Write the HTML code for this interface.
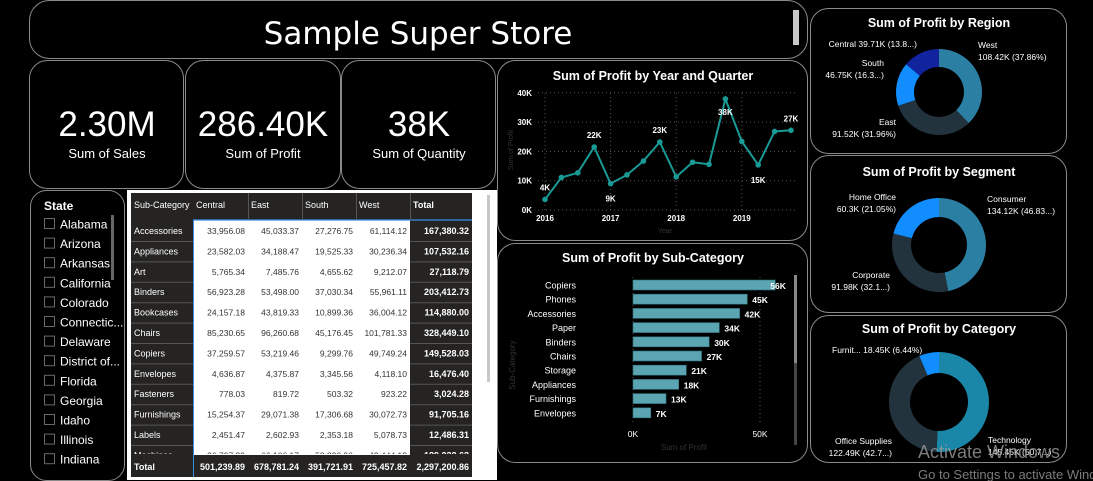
<!DOCTYPE html>
<html><head><meta charset="utf-8"><style>
html,body{margin:0;padding:0;background:#000;width:1093px;height:481px;overflow:hidden}
svg{display:block;font-family:"Liberation Sans",sans-serif}
</style></head><body>
<svg id="s" width="1093" height="481" viewBox="0 0 1093 481" xmlns="http://www.w3.org/2000/svg">
<g fill="#000" stroke="#8a8a8a" stroke-width="1">
<rect x="29.5" y="0.5" width="778" height="58" rx="20"/>
<rect x="29.5" y="60.5" width="154" height="128" rx="18"/>
<rect x="185.5" y="60.5" width="155" height="128" rx="18"/>
<rect x="341.5" y="60.5" width="154" height="128" rx="18"/>
<rect x="497.5" y="60.5" width="310" height="180" rx="18"/>
<rect x="497.5" y="243.5" width="310" height="219" rx="18"/>
<rect x="30.5" y="190.5" width="94" height="290" rx="16"/>
<rect x="810.5" y="8.5" width="256" height="145" rx="18"/>
<rect x="810.5" y="155.5" width="256" height="157" rx="18"/>
<rect x="810.5" y="315.5" width="256" height="147" rx="18"/>
</g>
<rect x="793" y="10" width="6" height="35" fill="#c8c8c8"/>
<text x="418" y="44" text-anchor="middle" font-size="31" fill="#fff" font-family="'Comic Sans MS','DejaVu Sans',sans-serif">Sample Super Store</text>
<g fill="#fff" text-anchor="middle">
<text x="107" y="136" font-size="35">2.30M</text>
<text x="107" y="158" font-size="13">Sum of Sales</text>
<text x="263" y="136" font-size="35">286.40K</text>
<text x="263" y="158" font-size="13">Sum of Profit</text>
<text x="419" y="136" font-size="35">38K</text>
<text x="419" y="158" font-size="13">Sum of Quantity</text>
</g>
<g id="slicer"></g>
<g id="table"></g>
<g id="line"></g>
<g id="bar"></g>
<g id="donuts"></g>
<text x="918" y="458" font-size="18" fill="#9a9a9a" opacity="0.8">Activate Windows</text>
<text x="918" y="479" font-size="13" fill="#9a9a9a" opacity="0.8">Go to Settings to activate Windows.</text>
</svg>
<script>
const NS="http://www.w3.org/2000/svg";
// ---- data ----
const states=["Alabama","Arizona","Arkansas","California","Colorado","Connectic...","Delaware","District of...","Florida","Georgia","Idaho","Illinois","Indiana"];
const tableCols=["Sub-Category","Central","East","South","West","Total"];
const tableRows=["Accessories","Appliances","Art","Binders","Bookcases","Chairs","Copiers","Envelopes","Fasteners","Furnishings","Labels","Machines"];
const tableCentral=["33,956.08","23,582.03","5,765.34","56,923.28","24,157.18","85,230.65","37,259.57","4,636.87","778.03","15,254.37","2,451.47","26,797.39"];
const tableEast=["45,033.37","34,188.47","7,485.76","53,498.00","43,819.33","96,260.68","53,219.46","4,375.87","819.72","29,071.38","2,602.93","66,106.17"];
const tableSouth=["27,276.75","19,525.33","4,655.62","37,030.34","10,899.36","45,176.45","9,299.76","3,345.56","503.32","17,306.68","2,353.18","53,890.96"];
const tableWest=["61,114.12","30,236.34","9,212.07","55,961.11","36,004.12","101,781.33","49,749.24","4,118.10","923.22","30,072.73","5,078.73","42,444.12"];
const tableTotal=["167,380.32","107,532.16","27,118.79","203,412.73","114,880.00","328,449.10","149,528.03","16,476.40","3,024.28","91,705.16","12,486.31","189,238.63"];
const totalRow=["Total","501,239.89","678,781.24","391,721.91","725,457.82","2,297,200.86"];
const quarterProfit=[3.6,11.1,12.7,21.5,9.0,12.0,16.7,23.2,11.3,16.3,15.6,37.9,23.4,15.4,26.8,27.2];
const lineLabels={0:"4K",3:"22K",4:"9K",7:"23K",11:"38K",13:"15K",15:"27K"};
const yearTicks=["2016","2017","2018","2019"];
const yTicks=[0,10,20,30,40];
const barCats=["Copiers","Phones","Accessories","Paper","Binders","Chairs","Storage","Appliances","Furnishings","Envelopes"];
const barVals=[56,45,42,34,30,27,21,18,13,7];
const barTicks=[0,50];
const regionNames=["West","East","South","Central"];
const regionVals=[37.86,31.96,16.33,13.85];
const segmentNames=["Consumer","Corporate","Home Office"];
const segmentVals=[46.83,32.12,21.05];
const categoryNames=["Technology","Office Supplies","Furniture"];
const categoryVals=[50.79,42.77,6.44];

function el(tag,attrs,parent,txt){const e=document.createElementNS(NS,tag);for(const k in attrs)e.setAttribute(k,attrs[k]);if(txt!==undefined)e.textContent=txt;parent.appendChild(e);return e;}

// ---- slicer ----
const sl=document.getElementById('slicer');
let t=el('text',{x:44,y:210,'font-size':12,'font-weight':'bold',fill:'#fff'},sl,'State');

states.forEach((s,i)=>{const y=224+i*19.6;
 const g=el('g',{},sl);
 el('rect',{x:44.5,y:y-5.5,width:10,height:10,fill:'none',stroke:'#6a6a6a'},g);
 el('text',{x:60,y:y+4.5,'font-size':12,fill:'#fff'},g,s);});
let sb=el('rect',{x:111,y:215,width:3,height:65,fill:'#666'},sl);


// ---- table ----
const tb=document.getElementById('table');
el('rect',{x:127,y:190,width:370,height:290,fill:'#fff'},tb);
const colX=[131,193,248,302,356,410,472];
el('rect',{x:131,y:193,width:341,height:27,fill:'#252423'},tb);
el('rect',{x:131,y:220,width:62,height:235,fill:'#252423'},tb);
el('rect',{x:410,y:220,width:62,height:235,fill:'#252423'},tb);
el('rect',{x:131,y:455,width:341,height:22,fill:'#252423'},tb);
el('line',{x1:193,y1:220,x2:472,y2:220,stroke:'#3a8ee6','stroke-width':1.2},tb);
el('line',{x1:193.5,y1:220,x2:193.5,y2:477,stroke:'#3a8ee6'},tb);
for(let i=1;i<5;i++)el('line',{x1:colX[i+1]+0.5,y1:193,x2:colX[i+1]+0.5,y2:220,stroke:'#555'},tb);
tableCols.forEach((c,i)=>{const tx=el('text',{x:colX[i]+3,y:208,'font-size':9,fill:'#fff','font-weight':i==5?'bold':'normal'},tb,c);
 });
const cols=[tableCentral,tableEast,tableSouth,tableWest];
tableRows.forEach((r,i)=>{const y=231+i*20.4;
 if(i<11){el('line',{x1:131,y1:y+10.5,x2:193,y2:y+10.5,stroke:'#555'},tb);el('line',{x1:410,y1:y+10.5,x2:472,y2:y+10.5,stroke:'#555'},tb);}
 const g=el('g',{},tb);
 if(i==11)g.setAttribute('clip-path','url(#rowclip)');
 el('text',{x:134,y:y+3,'font-size':9,fill:'#fff'},g,r);
 cols.forEach((c,j)=>el('text',{x:colX[j+2]-3,y:y+3,'font-size':8.5,fill:'#333','text-anchor':'end'},g,c[i]));
 el('text',{x:469,y:y+3,'font-size':9,fill:'#fff','font-weight':'bold','text-anchor':'end'},g,tableTotal[i]);});
const defs=el('defs',{},document.getElementById('s'));const cp=el('clipPath',{id:'rowclip'},defs);el('rect',{x:127,y:440,width:350,height:14},cp);
totalRow.forEach((v,i)=>{const tx=el('text',{x:i==0?134:colX[i+1]-3,y:470,'font-size':9,'font-weight':'bold',fill:'#fff','text-anchor':i==0?'start':'end'},tb,v);
 });
let ts=el('rect',{x:487,y:195,width:3,height:187,fill:'#c8c8c8'},tb);


// ---- line chart ----
const ln=document.getElementById('line');
el('text',{x:653,y:80,'font-size':12.5,'font-weight':'bold',fill:'#fff','text-anchor':'middle'},ln,'Sum of Profit by Year and Quarter');
const lx=i=>545+i*16.4, ly=v=>210-v*2.93;
yTicks.forEach(v=>{el('line',{x1:538,y1:ly(v),x2:797,y2:ly(v),stroke:'#555','stroke-dasharray':'1,3'},ln);
 el('text',{x:532,y:ly(v)+3,'font-size':8,'font-weight':'bold',fill:'#fff','text-anchor':'end'},ln,v+'K');});
yearTicks.forEach((y,i)=>{const x=lx(i*4);el('line',{x1:x,y1:93,x2:x,y2:210,stroke:'#555','stroke-dasharray':'1,3'},ln);
 el('text',{x:x,y:221,'font-size':8,'font-weight':'bold',fill:'#fff','text-anchor':'middle'},ln,y);});
el('text',{x:665,y:233,'font-size':7,fill:'#333','text-anchor':'middle'},ln,'Year');
el('text',{x:513,y:150,'font-size':7,fill:'#333','text-anchor':'middle',transform:'rotate(-90 513 150)'},ln,'Sum of Profit');
let p=el('polyline',{points:quarterProfit.map((v,i)=>lx(i)+','+ly(v)).join(' '),fill:'none',stroke:'#1a9a96','stroke-width':2},ln);

quarterProfit.forEach((v,i)=>{const c=el('circle',{cx:lx(i),cy:ly(v),r:2.8,fill:'#1a9a96'},ln);
 
 if(lineLabels[i]){const below=(i==4||i==11||i==13);
  el('text',{x:lx(i),y:below?ly(v)+(i==11?16:18):ly(v)-9,'font-size':8,'font-weight':'bold',fill:'#fff','text-anchor':'middle'},ln,lineLabels[i]);}});

// ---- bar chart ----
const br=document.getElementById('bar');
el('text',{x:653,y:262,'font-size':12.5,'font-weight':'bold',fill:'#fff','text-anchor':'middle'},br,'Sum of Profit by Sub-Category');
const bx=v=>633+v*2.54, by=i=>285+i*14.2;
barTicks.forEach(v=>{el('line',{x1:bx(v),y1:277,x2:bx(v),y2:422,stroke:'#555','stroke-dasharray':'1,3'},br);
 el('text',{x:bx(v),y:437,'font-size':8.5,fill:'#fff','text-anchor':'middle'},br,v+'K');});
barCats.forEach((c,i)=>{el('text',{x:576,y:by(i)+3.5,'font-size':9,fill:'#fff','text-anchor':'end'},br,c);
 const r=el('rect',{x:bx(0),y:by(i)-5,width:bx(barVals[i])-bx(0),height:10,fill:'#5ba5b2',stroke:'#2e6f78','stroke-width':0.6},br);
 
 el('text',{x:bx(barVals[i])+(i==0?-5:5),y:by(i)+4,'font-size':8.5,'font-weight':'bold',fill:'#fff'},br,barVals[i]+'K');});
el('text',{x:684,y:450,'font-size':8,fill:'#333','text-anchor':'middle'},br,'Sum of Profit');
el('text',{x:515,y:365,'font-size':8,fill:'#333','text-anchor':'middle',transform:'rotate(-90 515 365)'},br,'Sub-Category');
el('rect',{x:794,y:275,width:3,height:170,fill:'#444'},br);
let bs=el('rect',{x:794,y:275,width:3,height:88,fill:'#888'},br);


// ---- donuts ----
const dn=document.getElementById('donuts');
function donut(cx,cy,ro,ri,vals,names,colors,title,ty,labels){
 el('text',{x:939,y:ty,'font-size':12.5,'font-weight':'bold',fill:'#fff','text-anchor':'middle'},dn,title);
 const tot=vals.reduce((a,b)=>a+b,0);let a0=0;
 vals.forEach((v,i)=>{const a1=a0+v/tot*Math.PI*2;
  const P=(a,r)=>[cx+r*Math.sin(a),cy-r*Math.cos(a)];const lg=(a1-a0)>Math.PI?1:0;
  const [x1,y1]=P(a0,ro),[x2,y2]=P(a1,ro),[x3,y3]=P(a1,ri),[x4,y4]=P(a0,ri);
  const s=el('path',{d:`M${x1},${y1}A${ro},${ro} 0 ${lg} 1 ${x2},${y2}L${x3},${y3}A${ri},${ri} 0 ${lg} 0 ${x4},${y4}Z`,fill:colors[i]},dn);
  
  a0=a1;});
 labels.forEach(l=>el('text',{x:l[0],y:l[1],'font-size':8.5,fill:'#fff','text-anchor':l[3]||'start'},dn,l[2]));
}
donut(939,92,43,25,regionVals,regionNames,['#2a7fa3','#22333e','#118dff','#12239e'],'Sum of Profit by Region',27,
 [[978,48,'West'],[978,60,'108.42K (37.86%)'],[917,47,'Central 39.71K (13.8...)','end'],[884,66,'South','end'],[884,78,'46.75K (16.3...)','end'],[896,125,'East','end'],[896,137,'91.52K (31.96%)','end']]);
donut(939,245,47,28,segmentVals,segmentNames,['#2a7fa3','#22333e','#118dff'],'Sum of Profit by Segment',176,
 [[987,202,'Consumer'],[987,214,'134.12K (46.83...)'],[896,200,'Home Office','end'],[896,212,'60.3K (21.05%)','end'],[890,278,'Corporate','end'],[890,290,'91.98K (32.1...)','end']]);
donut(939,402,50,29,categoryVals,categoryNames,['#1a86a8','#22333e','#118dff'],'Sum of Profit by Category',333,
 [[832,353,'Furnit... 18.45K (6.44%)'],[988,443,'Technology'],[988,455,'145.45K (50.7...)'],[892,444,'Office Supplies','end'],[892,456,'122.49K (42.7...)','end']]);
</script>
</body></html>
